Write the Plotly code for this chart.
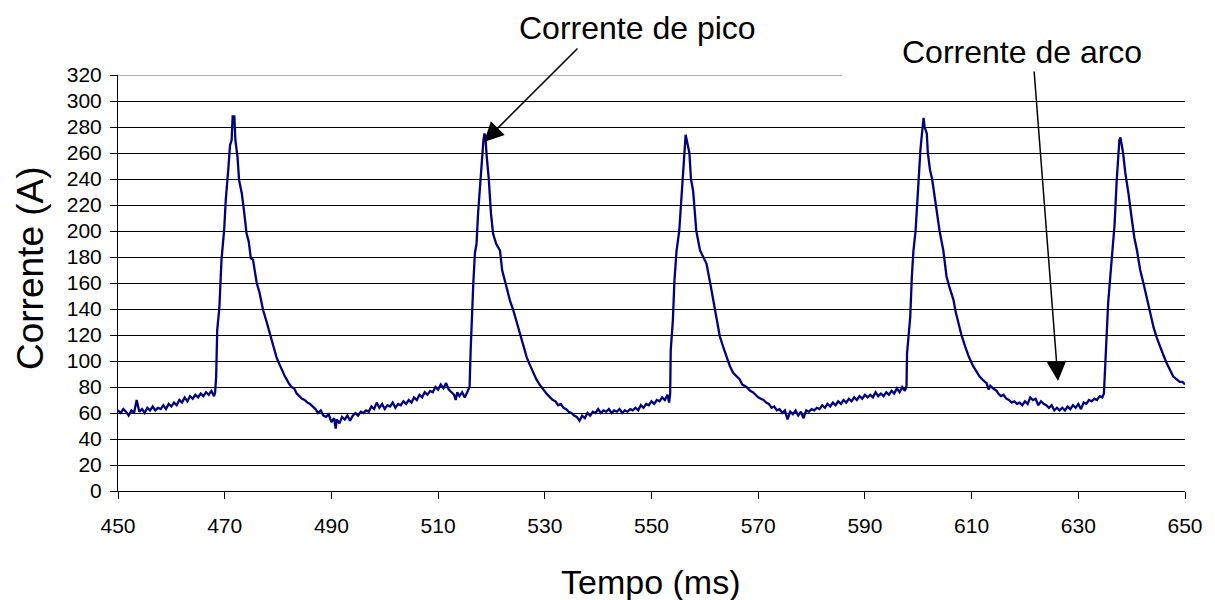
import plotly.graph_objects as go

# Time (ms) and current (A)
tempo_ms = [
    450.0, 450.5, 451.0, 451.5, 452.0, 452.5, 453.0, 453.5, 454.0, 454.5,
    455.0, 455.5, 456.0, 456.5, 457.0, 457.5, 458.0, 458.5, 459.0, 459.5,
    460.0, 460.5, 461.0, 461.5, 462.0, 462.5, 463.0, 463.5, 464.0, 464.5,
    465.0, 465.5, 466.0, 466.5, 467.0, 467.5, 468.0,
    468.2, 468.4, 468.6, 469.0, 469.4, 469.9, 470.2, 470.7, 471.0, 471.3,
    471.5, 471.7, 471.8, 472.0, 472.4, 472.7, 473.2, 473.6, 474.1, 474.5,
    474.9, 475.3,
    476.0, 476.5, 477.2, 477.8, 478.5, 479.0, 479.7, 480.2, 480.7, 481.3,
    482.0, 482.5, 483.0, 483.5, 484.0, 484.5, 485.0, 485.5, 486.0, 486.6,
    487.0, 487.5, 488.0, 488.5, 489.0, 489.5, 490.0, 490.5, 490.8, 491.0, 491.5,
    492.0, 492.5, 493.0, 493.5, 494.0, 494.5, 495.0, 495.5, 496.0, 496.5,
    497.0, 497.5, 498.0, 498.5, 499.0, 499.5, 500.0, 500.5, 501.0, 501.5,
    502.0, 502.5, 503.0, 503.5, 504.0, 504.5, 505.0, 505.5, 506.0, 506.5,
    507.0, 507.5, 508.0, 508.5, 509.0, 509.5, 510.0, 510.5, 511.0, 511.5,
    512.0, 512.5, 513.0, 513.3, 513.6, 514.0, 514.5, 515.0, 515.5, 515.9,
    516.1, 516.3, 516.6, 516.9, 517.2, 517.5, 517.9, 518.2, 518.5, 518.7,
    518.9, 519.1, 519.5, 519.9, 520.3, 520.9, 521.6, 522.0, 522.5, 523.0,
    523.5, 524.1, 524.7, 525.4, 526.0, 526.6, 527.2, 527.8, 528.4, 529.0,
    529.7, 530.3, 531.0, 531.5, 532.0, 532.5, 533.0, 533.5, 534.0, 534.5,
    535.0, 535.5, 536.0, 536.5, 537.0, 537.5, 538.0, 538.5, 539.0, 539.5,
    540.0, 540.5, 541.0, 541.5, 542.0, 542.5, 543.0, 543.5, 544.0, 544.5,
    545.0, 545.5, 546.0, 546.5, 547.0, 547.5, 548.0, 548.5, 549.0, 549.5,
    550.0, 550.5, 551.0, 551.5, 552.0, 552.5, 553.0, 553.3, 553.5,
    553.6, 554.0, 554.3, 554.7, 555.2, 555.7, 556.1, 556.4, 556.7, 557.1,
    557.4, 557.8, 558.4, 559.1, 559.7, 560.3, 561.0, 561.5, 561.9, 562.4,
    562.8, 563.5, 564.1, 564.7, 565.3, 566.0, 566.5, 567.0, 567.8, 568.5,
    569.0, 569.5, 570.0, 570.5, 571.0, 571.5, 572.0, 572.5, 573.0, 573.5,
    574.0, 574.5, 575.0, 575.5, 576.0, 576.5, 577.0, 577.5, 578.0, 578.5,
    579.0, 579.5, 580.0, 580.5, 581.0, 581.5, 582.0, 582.5, 583.0, 583.5,
    584.0, 584.5, 585.0, 585.5, 586.0, 586.5, 587.0, 587.5, 588.0, 588.5,
    589.0, 589.5, 590.0, 590.5, 591.0, 591.5, 592.0, 592.5, 593.0, 593.5,
    594.0, 594.5, 595.0, 595.5, 596.0, 596.5, 597.0, 597.5, 597.8,
    597.9, 598.5, 598.8, 599.1, 599.5, 600.0, 600.4, 600.7, 601.0, 601.2,
    601.6, 601.8, 602.2, 602.6, 603.0, 603.5, 604.0, 604.7, 605.3, 605.9,
    606.6, 607.0, 607.5, 608.1, 608.8, 609.5, 610.3, 611.0, 611.5, 612.2,
    612.8, 613.2, 613.5, 614.0, 614.7, 615.0, 615.5, 616.0, 616.5, 617.0,
    617.5, 618.0, 618.5, 619.0, 619.5, 620.0, 620.5, 621.0, 621.5, 622.0,
    622.5, 623.0, 623.5, 624.0, 624.5, 625.0, 625.5, 626.0, 626.5, 627.0,
    627.5, 628.0, 628.5, 629.0, 629.5, 630.0, 630.5, 631.0, 631.5, 632.0,
    632.5, 633.0, 633.5, 634.0, 634.5, 634.8,
    635.2, 635.6, 636.1, 636.4, 636.8, 637.2, 637.5, 637.7, 637.9, 638.1,
    638.4, 638.8, 639.0, 639.4, 640.0, 640.5, 641.0, 641.6, 642.2, 642.8,
    643.4, 644.1, 644.7, 645.3, 646.0, 646.6, 647.2, 647.8, 648.4, 649.0,
    649.5, 650.0,
]

corrente_a = [
    62, 60, 63, 61, 58, 62, 60, 70, 61, 63,
    60, 64, 62, 65, 62, 64, 63, 66, 63, 67,
    65, 68, 66, 70, 68, 72, 69, 73, 71, 74,
    72, 75, 73, 76, 74, 77, 73,
    76, 88, 124, 141, 178, 201, 224, 249, 266, 270,
    289, 282, 289, 270, 257, 239, 229, 216, 198, 192,
    179, 178,
    160, 153, 139, 131, 121, 115, 103, 98, 93, 88,
    83, 80, 79, 75, 73, 71, 70, 68, 67, 65,
    63, 60, 62, 58, 57, 59, 53, 56, 48, 55, 52,
    57, 55, 58, 54, 58, 60, 58, 61, 60, 62,
    61, 65, 63, 68, 64, 67, 63, 66, 65, 68,
    64, 67, 66, 69, 67, 70, 68, 72, 70, 74,
    72, 76, 74, 77, 76, 80, 78, 82, 79, 83,
    78, 76, 74, 70, 76, 73, 76, 72, 76, 80,
    108, 134, 160, 183, 190, 214, 239, 258, 270, 275,
    270, 258, 240, 214, 198, 190, 185, 170, 162, 155,
    146, 139, 130, 121, 112, 103, 97, 91, 86, 82,
    78, 75, 72, 70, 69, 66, 67, 64, 63, 61,
    60, 58, 57, 54, 58, 56, 60, 58, 61, 60,
    63, 60, 62, 61, 63, 60, 62, 61, 63, 60,
    62, 61, 63, 62, 64, 62, 66, 64, 67, 66,
    69, 67, 70, 69, 72, 70, 74, 68, 75,
    108, 131, 162, 185, 200, 231, 260, 274, 268, 260,
    240, 231, 200, 185, 180, 175, 160, 148, 139, 128,
    119, 110, 103, 96, 91, 88, 86, 82, 80, 77,
    76, 74, 72, 71, 70, 68, 67, 64, 65, 62,
    63, 60, 62, 55, 61, 59, 62, 58, 61, 56,
    62, 61, 63, 62, 64, 63, 66, 64, 67, 65,
    68, 66, 69, 67, 70, 68, 71, 69, 72, 70,
    73, 71, 74, 72, 74, 72, 76, 73, 75, 73,
    76, 74, 77, 75, 79, 76, 80, 77, 81,
    106, 134, 165, 185, 200, 239, 262, 275, 287, 280,
    275, 260, 247, 240, 229, 215, 200, 185, 165, 156,
    147, 138, 129, 120, 111, 103, 96, 91, 88, 85,
    83, 78, 81, 79, 77, 75, 73, 74, 71, 70,
    68, 69, 67, 68, 66, 69, 67, 72, 70, 71,
    66, 69, 67, 66, 64, 66, 62, 64, 62, 64,
    62, 65, 63, 66, 64, 67, 63, 68, 67, 70,
    69, 71, 70, 73, 72, 75,
    111, 145, 170, 185, 205, 239, 262, 270, 272, 268,
    260, 245, 240, 229, 210, 195, 185, 170, 160, 149,
    137, 126, 118, 111, 104, 98, 93, 88, 86, 84,
    84, 82,
]

x_ticks = [450, 470, 490, 510, 530, 550, 570, 590, 610, 630, 650]
y_ticks = [0, 20, 40, 60, 80, 100, 120, 140, 160, 180, 200, 220, 240, 260, 280, 300, 320]

FONT = "Liberation Sans, Arial, sans-serif"

fig = go.Figure()
fig.add_trace(go.Scatter(
    x=tempo_ms, y=corrente_a, mode="lines",
    line=dict(color="#000080", width=2.3),
    showlegend=False, hoverinfo="skip",
))

fig.update_layout(
    width=1215, height=600,
    margin=dict(l=118, r=30, t=75, b=109),
    paper_bgcolor="white", plot_bgcolor="white",
    font=dict(family=FONT, color="black"),
    xaxis=dict(
        range=[450, 650], tickvals=x_ticks, ticktext=[str(v) for v in x_ticks],
        showgrid=False, zeroline=False,
        showline=True, linecolor="black", linewidth=1,
        ticks="outside", ticklen=7, tickcolor="black", tickwidth=1,
        tickfont=dict(size=21, family=FONT, color="black"),
        ticklabelstandoff=9,
    ),
    yaxis=dict(
        range=[0, 320], tickvals=y_ticks, ticktext=[str(v) for v in y_ticks],
        showgrid=True, gridcolor="black", gridwidth=1, zeroline=False,
        showline=True, linecolor="black", linewidth=1,
        ticks="outside", ticklen=7, tickcolor="black", tickwidth=1,
        tickfont=dict(size=21, family=FONT, color="black"),
        ticklabelstandoff=4,
    ),
    shapes=[
        # top (320) gridline, partly hidden in the original by the label box
        dict(type="line", xref="x", yref="y", x0=450, x1=585.7, y0=320, y1=320,
             line=dict(color="#666666", width=1), layer="below"),
    ],
    annotations=[
        # arrows
        dict(x=518.6, y=268.5, xref="x", yref="y", text="", showarrow=True,
             ax=95, ay=-95, arrowhead=2, arrowsize=2.6, arrowwidth=1.5,
             arrowcolor="black", standoff=0, startstandoff=0),
        dict(x=626.2, y=84.6, xref="x", yref="y", text="", showarrow=True,
             ax=-24, ay=-311, arrowhead=2, arrowsize=2.6, arrowwidth=1.5,
             arrowcolor="black", standoff=0, startstandoff=0),
        # labels
        dict(x=0.4873, y=1.113, xref="paper", yref="paper", text="Corrente de pico",
             showarrow=False, xanchor="center", yanchor="middle",
             font=dict(size=32, family=FONT, color="black")),
        dict(x=0.8472, y=1.0553, xref="paper", yref="paper", text="Corrente de arco",
             showarrow=False, xanchor="center", yanchor="middle",
             font=dict(size=32, family=FONT, color="black")),
        dict(x=0.4995, y=-0.2188, xref="paper", yref="paper", text="Tempo (ms)",
             showarrow=False, xanchor="center", yanchor="middle",
             font=dict(size=34, family=FONT, color="black")),
        dict(x=-0.0825, y=0.536, xref="paper", yref="paper", text="Corrente (A)",
             showarrow=False, xanchor="center", yanchor="middle", textangle=-90,
             font=dict(size=37, family=FONT, color="black")),
    ],
)

fig.write_html("out.html")
